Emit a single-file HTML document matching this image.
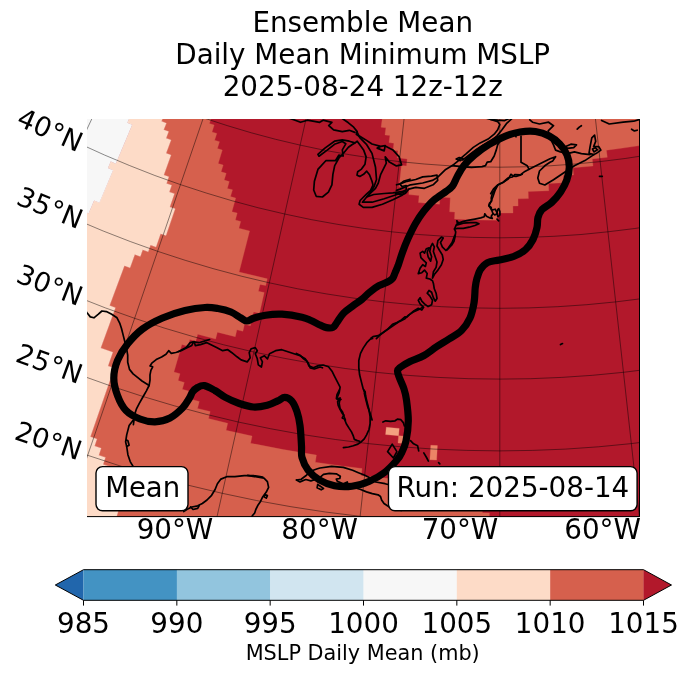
<!DOCTYPE html><html><head><meta charset="utf-8"><title>Ensemble Mean MSLP</title><style>html,body{margin:0;padding:0;background:#fff}body{width:688px;height:674px;position:relative;overflow:hidden}svg text{font-family:"DejaVu Sans","Liberation Sans",sans-serif;fill:#000}</style></head><body><svg width="688" height="674" viewBox="0 0 688 674" style="position:absolute;left:0;top:0">
<defs><clipPath id="m"><rect x="87.0" y="119.0" width="553.0" height="398.0"/></clipPath></defs>
<g clip-path="url(#m)">
<rect x="87.0" y="119.0" width="553.0" height="398.0" fill="#b2182b"/>
<path d="M124.4,265.7 109.6,305.6 115.4,307.8 100.7,348 112.8,352.4 108,365.9 114.1,368.1 90.4,436.8 96.9,439 94.5,446 101.1,448.2 98.7,455.2 105.4,457.4 103.1,464.4 116.4,468.7 112,482.9 118.7,485 112.1,506.4 119,508.6 116.4,517 489.3,517 489.4,512.9 482.4,512.8 482.5,505.4 455,504.7 455.2,497.4 427.9,496.1 428.3,488.8 394.3,486.4 394.9,479.1 361.2,475.7 362,468.5 342,466 315.3,462.3 316.4,455.1 283.4,449.6 250.6,443.2 252.1,436.1 226.1,430.3 227.7,423.3 208.5,418.6 210.2,411.6 197.5,408.4 199.3,401.4 186.7,398 188.6,391 182.3,389.3 184.3,382.4 178.1,380.6 180,373.7 173.9,371.9 181.9,344.5 187.9,346.2 189.8,339.4 195.8,341.1 197.7,334.2 215.6,339 217.4,332.2 235.3,336.7 236.9,329.8 242.9,331.2 244.5,324.3 250.4,325.7 253.6,311.9 259.5,313.2 264.2,292.5 258.4,291.2 260,284.4 265.7,285.6 267.3,278.8 239.1,272 249.6,231 238.9,228.2 240.7,221.4 235.4,219.9 237.2,213.1 231.9,211.7 235.7,198.1 230.5,196.6 232.5,189.8 227.3,188.4 229.3,181.6 224.2,180.1 226.2,173.3 221.1,171.8 223.2,165.1 218.2,163.5 222.3,150 217.4,148.5 219.5,141.7 214.6,140.2 216.8,133.4 212,131.9 214.2,125.1 209.4,123.5 210.9,119 162.3,119 161.5,121.3 166.2,123.2 163.7,129.8 168.5,131.6 166,138.2 170.9,140.1 166,153.3 171,155.1 163.7,175 168.8,176.8 166.4,183.5 171.5,185.3 169.2,191.9 174.4,193.7 169.8,207 175,208.8 166,235.5 160.6,233.7 156,247 150.5,245.1 148.2,251.7 142.7,249.8 140.3,256.4 134.8,254.5 129.9,267.7ZM382.2,119 381.1,127.2 385.9,127.8 385,134.9 389.9,135.5 389,142.6 393.9,143.2 393.1,150.2 398,150.8 397.2,157.8 407.2,158.9 406.5,165.9 401.4,165.4 399.2,186.5 409.4,187.6 408.8,194.6 419.1,195.6 418.5,202.6 439.5,204.2 439.9,197.1 450.3,197.7 449.6,211.8 454.8,212.1 454.5,219.1 475.8,219.9 497.1,220.2 497.1,213.1 513,213 512.9,206 518.1,205.9 518,198.8 528.4,198.6 528.2,191.5 548.8,190.7 548.5,183.6 563.8,182.7 563.3,175.6 573.5,174.9 572.9,167.8 593,166 592.3,158.9 607.3,157.3 606.4,150.2 621.2,148.3 640,145.6 640,119Z" fill="#d6604d" stroke="#d6604d" stroke-width="0.3"/>
<path d="M116.5,517 119,508.5 112.1,506.4 118.8,485 112,482.9 116.5,468.7 103.1,464.4 105.4,457.4 98.8,455.2 101.1,448.2 94.6,446 96.9,439 90.4,436.8 114.2,368 108,365.9 112.8,352.3 100.7,348 115.4,307.7 109.6,305.6 124.4,265.7 130,267.8 134.8,254.5 140.3,256.5 142.7,249.8 148.2,251.8 150.5,245.1 156,247 160.6,233.7 166,235.5 175.1,208.8 169.8,207 174.4,193.7 169.3,191.9 171.6,185.3 166.5,183.4 168.8,176.8 163.8,175 171,155.1 166.1,153.3 171,140 166.1,138.2 168.6,131.6 163.7,129.8 166.3,123.2 161.5,121.3 162.4,119 129,119 127.4,122.7 132.2,124.7 115.8,163.7 110.8,161.6 108,168.1 113,170.2 99.3,202.6 94.1,200.4 88.6,213.4 87,212.7 87,517Z" fill="#fddbc7" stroke="#fddbc7" stroke-width="0.3"/>
<path d="M88.6,213.4 94.1,200.5 99.4,202.7 113.1,170.2 108,168.1 110.8,161.6 115.8,163.7 132.2,124.7 127.4,122.7 129,119 87,119 87,212.8Z" fill="#f7f7f7" stroke="#f7f7f7" stroke-width="0.3"/>
<path d="M385.6,434.5 398.6,435.7 399.2,428.5 386.3,427.3Z" fill="#f3a07f" stroke="#f3a07f" stroke-width="0.3"/>
<path d="M398,442.9 404.6,443.5 405.1,436.2 398.6,435.7ZM437.4,445.6 430.8,445.3 429.9,459.7 436.6,460.1Z" fill="#ec8466" stroke="#ec8466" stroke-width="0.3"/>
<path d="M-287,535.3 136.2,-154.6M-141.4,613.9 203.5,-118.2M12,676.1 274.4,-89.5M171.3,721 348,-68.7M334.5,748.2 423.4,-56.2M499.8,757.3 499.8,-52M665,748.2 576.1,-56.2M828.2,721 651.5,-68.7M-310.4,423.7 -277.9,445.5 -244.8,466.5 -211.1,486.5 -176.9,505.6 -142.2,523.7 -107,540.9 -71.3,557.1 -35.2,572.3 1.3,586.5 38.2,599.7 75.4,611.9 113,623.1 150.8,633.2 188.9,642.3 227.2,650.3 265.8,657.3 304.5,663.2 343.4,668 382.4,671.8 421.4,674.5 460.6,676.1 499.8,676.6 538.9,676.1 578.1,674.5 617.1,671.8 656.1,668 695,663.2 733.7,657.3 772.3,650.3 810.6,642.3 848.7,633.2 886.5,623.1 924.1,611.9 961.3,599.7M-266.2,359.9 -235.5,380.5 -204.2,400.3 -172.4,419.3 -140,437.3 -107.2,454.5 -73.9,470.7 -40.2,486 -6.1,500.4 28.5,513.9 63.3,526.3 98.5,537.9 134,548.4 169.8,558 205.8,566.6 242.1,574.2 278.5,580.7 315.1,586.3 351.9,590.9 388.8,594.5 425.7,597 462.7,598.5 499.8,599 536.8,598.5 573.8,597 610.7,594.5 647.6,590.9 684.4,586.3 721,580.7 757.4,574.2 793.7,566.6 829.7,558 865.5,548.4 901,537.9 936.2,526.3M-223.5,298.2 -194.5,317.7 -164.9,336.4 -134.9,354.2 -104.4,371.3 -73.4,387.5 -41.9,402.8 -10.1,417.3 22.1,430.9 54.7,443.6 87.7,455.3 120.9,466.2 154.4,476.2 188.2,485.2 222.2,493.3 256.4,500.5 290.9,506.7 325.4,512 360.1,516.3 394.9,519.7 429.8,522.1 464.8,523.5 499.8,524 534.7,523.5 569.7,522.1 604.6,519.7 639.4,516.3 674.1,512 708.6,506.7 743.1,500.5 777.3,493.3 811.3,485.2 845.1,476.2 878.6,466.2 911.8,455.3M-181.9,238 -154.6,256.4 -126.7,274 -98.4,290.9 -69.6,306.9 -40.4,322.2 -10.8,336.7 19.2,350.3 49.6,363.1 80.3,375.1 111.4,386.2 142.7,396.4 174.3,405.8 206.1,414.3 238.2,422 270.4,428.7 302.9,434.6 335.5,439.5 368.2,443.6 401,446.8 433.9,449.1 466.8,450.4 499.8,450.9 532.7,450.4 565.6,449.1 598.5,446.8 631.3,443.6 664,439.5 696.6,434.6 729.1,428.7 761.3,422 793.4,414.3 825.2,405.8 856.8,396.4 888.1,386.2M-141.1,179.1 -115.4,196.3 -89.2,212.9 -62.6,228.7 -35.5,243.8 -8.1,258.2 19.8,271.8 48,284.6 76.6,296.6 105.4,307.9 134.6,318.3 164.1,328 193.8,336.8 223.7,344.8 253.8,352 284.2,358.3 314.7,363.8 345.3,368.5 376,372.3 406.9,375.3 437.8,377.4 468.8,378.7 499.8,379.1 530.7,378.7 561.7,377.4 592.6,375.3 623.5,372.3 654.2,368.5 684.8,363.8 715.3,358.3 745.7,352 775.8,344.8 805.7,336.8 835.4,328 864.9,318.3M-100.8,120.8 -76.7,137 -52.2,152.5 -27.2,167.3 -1.9,181.5 23.9,194.9 50,207.7 76.4,219.7 103.2,231 130.2,241.5 157.6,251.3 185.2,260.3 213,268.6 241.1,276.1 269.3,282.8 297.7,288.8 326.3,293.9 355,298.3 383.8,301.9 412.7,304.7 441.7,306.7 470.7,307.9 499.8,308.3 528.8,307.9 557.8,306.7 586.8,304.7 615.7,301.9 644.5,298.3 673.2,293.9 701.8,288.8 730.2,282.8 758.4,276.1 786.5,268.6 814.3,260.3 841.9,251.3M-60.7,62.8 -38.2,77.9 -15.3,92.4 8,106.3 31.6,119.5 55.7,132 80,143.9 104.7,155.1 129.7,165.6 154.9,175.5 180.4,184.6 206.2,193 232.2,200.8 258.3,207.8 284.7,214 311.2,219.6 337.9,224.4 364.7,228.5 391.6,231.8 418.5,234.5 445.6,236.3 472.7,237.4 499.8,237.8 526.8,237.4 553.9,236.3 581,234.5 607.9,231.8 634.8,228.5 661.6,224.4 688.3,219.6 714.8,214 741.2,207.8 767.3,200.8 793.3,193 819.1,184.6M-20.5,4.7 0.4,18.8 21.6,32.2 43.2,45.1 65.2,57.3 87.5,69 110.1,80 133,90.4 156.2,100.2 179.6,109.3 203.3,117.8 227.2,125.6 251.3,132.8 275.6,139.3 300.1,145.1 324.7,150.3 349.5,154.7 374.4,158.5 399.3,161.6 424.4,164 449.5,165.8 474.6,166.8 499.8,167.2 524.9,166.8 550,165.8 575.1,164 600.2,161.6 625.1,158.5 650,154.7 674.8,150.3 699.4,145.1 723.9,139.3 748.2,132.8 772.3,125.6 796.2,117.8M20.1,-54 39.3,-41 58.9,-28.6 78.9,-16.8 99.1,-5.5 119.7,5.2 140.5,15.4 161.7,25 183,34 204.6,42.4 226.5,50.3 248.5,57.5 270.7,64.1 293.1,70.1 315.7,75.4 338.4,80.2 361.2,84.3 384.2,87.8 407.2,90.7 430.3,92.9 453.4,94.5 476.6,95.5 499.8,95.8 522.9,95.5 546.1,94.5 569.2,92.9 592.3,90.7 615.3,87.8 638.3,84.3 661.1,80.2 683.8,75.4 706.4,70.1 728.8,64.1 751,57.5 773,50.3M61.5,-113.8 79.1,-102 97,-90.7 115.2,-79.9 133.7,-69.5 152.5,-59.7 171.5,-50.4 190.8,-41.7 210.4,-33.4 230.1,-25.7 250.1,-18.6 270.2,-12 290.5,-6 311,-0.5 331.6,4.4 352.3,8.8 373.2,12.5 394.1,15.7 415.2,18.3 436.3,20.4 457.4,21.8 478.6,22.7 499.8,23 520.9,22.7 542.1,21.8 563.2,20.4 584.3,18.3 605.4,15.7 626.3,12.5 647.2,8.8 667.9,4.4 688.5,-0.5 709,-6 729.3,-12 749.4,-18.6" fill="none" stroke="#000" stroke-opacity="0.45" stroke-width="1"/>
<path d="M290,118.5 295.2,120.2 300.5,122.3 307.4,120.2 319.7,122.3 323.1,120.2 331.9,122.3 328.7,125.5 333.6,129.8 342.3,131.6 349.3,130.3 354.9,132.4" fill="none" stroke="#000" stroke-width="1.7" stroke-linejoin="round" stroke-linecap="round"/>
<path d="M342.3,118.5 348.4,122.8 353.7,127.2 357.2,131.6 356.3,134.2 359.8,136.8" fill="none" stroke="#000" stroke-width="1.7" stroke-linejoin="round" stroke-linecap="round"/>
<path d="M354.9,142.9 349.3,141.2 342.3,139.8 334.5,141.2 324.9,148.1 317.9,154.4 319,156.2 327.5,149.9 334.5,144.3 342.3,141.5 345.8,143.8 342.3,149.9 343.2,156 338.8,155.1 335.4,160.7 325.8,160.7 317.9,169.4 314.4,181.3 313.7,190 316.2,196.3 322.4,197 328.4,192.1 331.9,184.8 332.9,174.3 334.7,165.6 339.2,157.7 344.1,152.5 348.4,147.3 351.9,144.7 354.9,142.9" fill="none" stroke="#000" stroke-width="1.7" stroke-linejoin="round" stroke-linecap="round"/>
<path d="M354.9,142.9 357.2,141.2 359.8,144.7 363.6,149.9 366.1,156.9 365,164.2 361.5,169.1 357.7,171.7 357,175.2 359.8,176.4 363.6,174.3 366.7,171.2 369.5,174.7 372,181.3 373,185.1 370.6,190.4 366.7,193.8 360.1,200.5 359.1,204.3 363.3,207.4 372,207.4 382.4,204.3 392.9,199.8 401.6,195.6 406.5,192.1" fill="none" stroke="#000" stroke-width="1.7" stroke-linejoin="round" stroke-linecap="round"/>
<path d="M357.2,132.4 359.8,137.7 366.7,144.7 372,153.4 375.5,167.3 376.5,179.5 374.1,186.5 371.3,191.1 366.7,197 362.4,202.2 372,202.2 384.2,198.7 394.7,195.2 405.5,191.4" fill="none" stroke="#000" stroke-width="1.7" stroke-linejoin="round" stroke-linecap="round"/>
<path d="M359.8,136.3 365,139.4 372,144 380.7,146.4 385.2,145.7 384.2,150.9 377.2,148.1 380.7,146.4" fill="none" stroke="#000" stroke-width="1.7" stroke-linejoin="round" stroke-linecap="round"/>
<path d="M385.2,146 392.9,149.9 399.2,156.9 401.6,164.9 396.4,165.9 389.4,162.1 385.2,156.9 386.3,163.1 384.2,167.3 380.7,174.3 378.3,183 375.5,188.3 372,191.7 366.7,197 373.7,194.5 384.2,193.5 392.9,192.8 401.6,191.7 406.2,190 406.2,185.5 402,186.5 399.9,184.1 403.4,181.3 410,179.2" fill="none" stroke="#000" stroke-width="1.7" stroke-linejoin="round" stroke-linecap="round"/>
<path d="M396.5,184.8 400,183.9 407,181.3 415.7,179.5 422.7,176.9 431.4,176.1 437,175.2 437.7,180.4 433.1,184.8 424.4,188.3 415.7,187.4 408.7,189.1 405.2,193.5 400,194.5 395.6,193.5" fill="none" stroke="#000" stroke-width="1.7" stroke-linejoin="round" stroke-linecap="round"/>
<path d="M396.5,190.4 400,189.1 410.5,184.8 422.7,183 432.3,180.4 437.5,177.4 445.7,169.4 452.3,165.6 457.6,161.4 460.4,158.6" fill="none" stroke="#000" stroke-width="1.7" stroke-linejoin="round" stroke-linecap="round"/>
<path d="M456.2,159 459.3,157.6 463.1,158.6 460.2,160.7 456.2,159" fill="none" stroke="#000" stroke-width="1.7" stroke-linejoin="round" stroke-linecap="round"/>
<path d="M460.4,158.6 466.3,153.7 473.3,147.4 480.2,142.9 488.1,139.1 494.2,134.2 497.7,129.8 499.8,124.6 497.7,121.6 490.7,119.5 487.2,118.5" fill="none" stroke="#000" stroke-width="1.7" stroke-linejoin="round" stroke-linecap="round"/>
<path d="M462.8,160 469.8,154.4 476.7,149.2 483.7,144.7 490.7,141.2 497,135.9 502,129.8 506.4,123.7 511.6,118.8" fill="none" stroke="#000" stroke-width="1.7" stroke-linejoin="round" stroke-linecap="round"/>
<path d="M490.7,119.5 497.7,120.2 504.7,120.6 509,118.5" fill="none" stroke="#000" stroke-width="1.7" stroke-linejoin="round" stroke-linecap="round"/>
<path d="M452.3,165.6 461.1,166.6 471.5,167.3 482,166.6 485.5,165.6 487.2,162.1 490.7,161.7 494.2,156 496.3,149.9 497.7,144.7 501.2,139.4 504.7,135.1 509,132.4 513.4,133.3 516,136.8" fill="none" stroke="#000" stroke-width="1.7" stroke-linejoin="round" stroke-linecap="round"/>
<path d="M522.1,174.3 520,175.2 516,176.4 513.4,176.1 510.9,174.3 508.5,178.7 503.3,182.2 498,184.8 495.2,190 492.8,197 490.7,202.2 489,205.7 491.7,210.1 495.2,209.2 497,212.7 497.7,216.2" fill="none" stroke="#000" stroke-width="1.7" stroke-linejoin="round" stroke-linecap="round"/>
<path d="M521,136.2 521,162.3 527.3,165.8 529.1,169.3" fill="none" stroke="#000" stroke-width="1.7" stroke-linejoin="round" stroke-linecap="round"/>
<path d="M490.7,193.7 493.5,188.8 497.7,185 502.9,182.5 508.1,178 512.3,177 515.1,174.5 520.3,174.9 524.9,171.4 529.1,169.3 539.5,164.1 550,158.8 555.6,156.7 552.8,160.9 550,162.3 544.8,165.8 539.5,171 537.8,178 539.5,183.2 544.8,185 553.5,179.8 563.9,172.8 574.4,165.8 584.9,160.6 590.1,157.1 593.9,154.6" fill="none" stroke="#000" stroke-width="1.7" stroke-linejoin="round" stroke-linecap="round"/>
<path d="M593.9,154.6 589,153.3 590.1,146.6 591.8,137.9 594.6,135.1 595.7,141.4 593.6,146.6 598.8,146.6 600.9,150.1 596,153.6 593.9,154.6" fill="none" stroke="#000" stroke-width="1.7" stroke-linejoin="round" stroke-linecap="round"/>
<path d="M592.5,149.1 595.3,147.7 597.4,149.8 593.9,151.9 592.5,149.1" fill="none" stroke="#000" stroke-width="1.7" stroke-linejoin="round" stroke-linecap="round"/>
<path d="M590.1,154.6 581.4,153.6 574.4,151.9 567.4,153.6 560.4,151.9 555.6,150.1 553.5,144.9 550,137.9 548.2,130.9 553.5,125.7 548.6,122.2 539.5,124 532.5,122.2 529.8,119.8" fill="none" stroke="#000" stroke-width="1.7" stroke-linejoin="round" stroke-linecap="round"/>
<path d="M565.7,146.6 570.9,144.2 576.5,144.9 573.7,147.7 567.4,148.4 565.7,146.6" fill="none" stroke="#000" stroke-width="1.7" stroke-linejoin="round" stroke-linecap="round"/>
<path d="M577.2,129.2 579.3,127.1 581.4,125.7" fill="none" stroke="#000" stroke-width="1.7" stroke-linejoin="round" stroke-linecap="round"/>
<path d="M601.6,120.5 609.3,124 623.2,122.2 633.7,121.2 640.7,119.1" fill="none" stroke="#000" stroke-width="1.7" stroke-linejoin="round" stroke-linecap="round"/>
<path d="M631.6,129.2 634.4,130.9 637.2,130.2" fill="none" stroke="#000" stroke-width="1.7" stroke-linejoin="round" stroke-linecap="round"/>
<path d="M599.5,176.3 602.3,176.3" fill="none" stroke="#000" stroke-width="1.7" stroke-linejoin="round" stroke-linecap="round"/>
<path d="M454.8,235.3 452.1,242.5 448.5,247.8 445.9,250.5 442.3,246.9 440.5,242.5 443.2,238 441.4,237.1 437.9,240.7 437,246 439.6,250.5 442.3,254.9 443.2,259.4 441.4,264.7 437.9,270.1 434.3,274.5 432.5,278.1 433.4,271.8 436.1,267.4 437,262 435.2,256.7 433.4,251.4 434.3,246.9 432.5,243.4 430.7,246.9 429.8,251.4 431.6,256.7 430.7,261.2 428.1,256.7 427.2,252.3 429,247.8 426.3,248.7 424.5,253.1 422.7,251.4 420.1,253.1 420.9,257.6 423.6,260.3 426.3,262.9 425.4,266.5 422.7,264.7 420.1,268.3 418.3,273.6 421.8,272.7 424.5,270.1 427.2,273.6 426.3,278.1 429.8,279 432.5,280.7 433.4,283.4 434.3,288.8 436.1,293.2 437,298.5 435.2,301.2 433.4,297.7 431.6,292.3 429,290.5 427.2,293.2 429.8,295.9 432.5,300.3 431.6,304.8 428.1,306.6 424.5,303.9 421.8,301.2 420.1,297.7 418.3,300.3 420.1,303.9 423.6,307.4 421.8,310.1 418.3,308.3 413.8,311 409.4,314.6 406.7,317.2 404.9,316.9 401.4,319.9 396.9,322.6 392.5,324.4 388,328.8 383.6,332.4 380,335 376.4,338.6" fill="none" stroke="#000" stroke-width="1.7" stroke-linejoin="round" stroke-linecap="round"/>
<path d="M422.8,307.1 420,308.9 413.9,311.6 408.6,315.1 405,318.7 399.7,321.4 394.4,324.9 389,328.5 383.7,332 378.3,335.6 373,336.7 370.9,338.1 372.6,338.5 370.3,339.2 366.8,342.7 363.2,348.1 360.5,353.4 358.8,360.5 358.8,367.7 359.6,374.8 361.4,381.9 363.2,389 365.2,391.7 365.5,396.1 364.4,393.5 365.9,399.7 367.7,406.8 370.3,413.9 372.1,420" fill="none" stroke="#000" stroke-width="1.7" stroke-linejoin="round" stroke-linecap="round"/>
<path d="M296.4,353.4 300,355.2 303.6,358.8 307.1,361.4 308.9,365.9 313.4,367.7 317.8,365.9 323.1,365 328.5,366.8 332,371.2 334.7,376.6 337.4,381.9 340.1,387.2 339.2,392.6 337.4,397 338.3,399.7 340.1,397.9 339.2,403.3 340.1,408.6 342.7,412.2 343.6,415.7 345.4,420" fill="none" stroke="#000" stroke-width="1.7" stroke-linejoin="round" stroke-linecap="round"/>
<path d="M178,351.7 180,350.7 186.1,347.6 190.2,342.6 194.2,341.5 195.3,345.6 200.4,344.6 206.5,342.6 210.5,344.6 216.6,347.6 222.7,350.7 227.8,349.7 231.9,352.7 237,356.8 241.1,359.9 247.2,361.9 250.2,357.8 249.2,352.7 251.2,348.7 255.3,347.6 257.3,350.7 255.3,353.8 257.3,358.8 258.3,364.9 261.4,367 262.4,361.9 260.4,357.8 264.5,355.8 267.5,358.8 269.5,353.8 275.6,350.7 281.8,349.7 287.9,351.7 294,353.8 300.1,355.8 305.2,358.8 308.2,362.9 310.2,368 314.3,369 320,367 322.5,367.8" fill="none" stroke="#000" stroke-width="1.7" stroke-linejoin="round" stroke-linecap="round"/>
<path d="M85,309.8 86.8,312.5 90.3,316.9 93.9,317.8 98.4,314.2 101.9,311 106.4,311.6 111.7,314.2 117,317.8 119.7,323.1 121.5,328.5 123.3,335.6 125.1,342.7 126.8,349.8 127.7,355.2 127.7,362.3 129.5,369.4 133.1,373.9 137.5,377.4 142,381 146.4,383.7 149.1,385.5" fill="none" stroke="#000" stroke-width="1.7" stroke-linejoin="round" stroke-linecap="round"/>
<path d="M209.6,339.5 207.5,340.1 198.9,342.7 193.6,341.8 191.8,345.4 186.5,348.1 181.1,350.7 175.8,352.5 171.3,353.4 168.7,350.7 166,354.3 161.6,357 156.2,359.6 151.8,363.2 150,365.9 152.7,366.8 150.9,370.3 150,374.8 150,380.1 149.1,385.5 146.4,390.8 142.9,397 139.3,403.3 136.6,408.6 134.8,413.9 134,420 133.4,424.6" fill="none" stroke="#000" stroke-width="1.7" stroke-linejoin="round" stroke-linecap="round"/>
<path d="M134,419.5 132.6,420.9 129.1,425.6 126.7,434.9 125.6,441.9 126.7,446.5 129.1,445.3 127.9,440.7 126.5,440" fill="none" stroke="#000" stroke-width="1.7" stroke-linejoin="round" stroke-linecap="round"/>
<path d="M126.7,446.5 127.9,454.7 130.2,461.6 133.7,467.4 137.2,472.1" fill="none" stroke="#000" stroke-width="1.7" stroke-linejoin="round" stroke-linecap="round"/>
<path d="M183.7,511.6 187.2,509.3 191.9,507 197.7,505.8 202.3,503.5 207,500 211.6,495.3 215.1,489.5 217.4,483.7 220.9,479.1 226.7,476.7 234.9,476.7 244.2,475.6 253.5,475.6 260,476.7 262.8,477.2" fill="none" stroke="#000" stroke-width="1.7" stroke-linejoin="round" stroke-linecap="round"/>
<path d="M190.7,507 193,509.5 197.7,508.4 199.1,505.8" fill="none" stroke="#000" stroke-width="1.7" stroke-linejoin="round" stroke-linecap="round"/>
<path d="M247.7,475.3 250,475.8 257,477 264,478.1 267.4,481.6 268.6,487.4 266.3,492.1 262.8,496.7 260.5,501.4 258.1,504.9 255.8,509.5 254.7,513 252.3,515.8 250,520" fill="none" stroke="#000" stroke-width="1.7" stroke-linejoin="round" stroke-linecap="round"/>
<path d="M265.1,494.4 267.4,495.6 266.3,498.1 264,496.7 265.1,494.4" fill="none" stroke="#000" stroke-width="1.7" stroke-linejoin="round" stroke-linecap="round"/>
<path d="M339.3,390 337,394.7 336.4,398.7 338.7,400.5 341,399.3 337.6,401.6 338.1,405.1 339.9,409.2 342.2,413.3 344,415 342.2,417.9 344.5,419.1 346.3,423.7 349.2,428.4 351.5,431.9 353.3,435.9 354.4,439.4 357.3,440.6 359.7,441.2" fill="none" stroke="#000" stroke-width="1.7" stroke-linejoin="round" stroke-linecap="round"/>
<path d="M363.7,390 365.5,395.8 367.2,402.8 369,409.8 370.1,416.7 370.1,423.7 369,429.5 366.6,434.8 364.3,438.8 361.4,441.7 357.9,444.1 353.3,445.8 348.6,447 343.4,447.6" fill="none" stroke="#000" stroke-width="1.7" stroke-linejoin="round" stroke-linecap="round"/>
<path d="M382.9,422 385.8,420.8 390.5,421.4 395.1,420.8 397.4,419.1 400.9,419.7 403.3,422.6 404.4,426" fill="none" stroke="#000" stroke-width="1.7" stroke-linejoin="round" stroke-linecap="round"/>
<path d="M387.6,451.6 392.2,444.1 396.9,451.6 393.4,458 387.6,451.6" fill="none" stroke="#000" stroke-width="1.7" stroke-linejoin="round" stroke-linecap="round"/>
<path d="M560.5,344.6 562.5,343.6" fill="none" stroke="#000" stroke-width="1.7" stroke-linejoin="round" stroke-linecap="round"/>
<path d="M410.5,440.7 413.6,443.8 417.6,445.8 418.7,450.9" fill="none" stroke="#000" stroke-width="1.7" stroke-linejoin="round" stroke-linecap="round"/>
<path d="M423.8,452.9 426.8,458 428.4,461.1" fill="none" stroke="#000" stroke-width="1.7" stroke-linejoin="round" stroke-linecap="round"/>
<path d="M438.6,462.7 439.8,463.9" fill="none" stroke="#000" stroke-width="1.7" stroke-linejoin="round" stroke-linecap="round"/>
<path d="M495.8,187.7 494.7,190 492.3,193.5 491.2,198.1 491.7,201 489.4,203.4 488.8,205.7 491.2,207.4 491.7,210.3 492.9,213.3 494.7,215 497,213.8 497.6,209.8 498.7,208.6 499.9,211.5 499.9,215 498.1,216.7" fill="none" stroke="#000" stroke-width="1.7" stroke-linejoin="round" stroke-linecap="round"/>
<path d="M497,219.1 498.7,220.8" fill="none" stroke="#000" stroke-width="1.7" stroke-linejoin="round" stroke-linecap="round"/>
<path d="M492.9,213.8 491.2,216.2 492.3,218.5 490,217.9 486.5,216.2 484.8,213.8 484.2,216.7 480.7,217.9 474.9,219.1 469.1,220.2 463.3,221.4 458.6,223.1 456.9,220.8 457.4,223.7 456.3,224.9 454.5,229 455.7,231.9 455.1,236.5 454,241.2 451.6,245.2 448.7,248.1 447,250" fill="none" stroke="#000" stroke-width="1.7" stroke-linejoin="round" stroke-linecap="round"/>
<path d="M457.4,224.9 463.3,223.1 470.2,222.6 476,222.6 479,223.7 474.9,225.5 469.1,227.2 463.3,228.4 457.4,228.4 454.5,229" fill="none" stroke="#000" stroke-width="1.7" stroke-linejoin="round" stroke-linecap="round"/>
<path d="M296.5,480 301.2,479.3 305.8,475.8 310.5,471.2 317.4,468.8 320,468 331.6,466.3 343.3,467.4 352.6,470.3 358.4,472.7 364.2,475 368.8,477.3 375.8,482 385.1,483.7 392.1,485.5 401.4,488.4" fill="none" stroke="#000" stroke-width="1.7" stroke-linejoin="round" stroke-linecap="round"/>
<path d="M296.5,480 300,481.9 305.8,479.5 310.9,480.9 316,479.1 320,477.4 323.5,474.4 329.3,473.3 336.3,473.8 340.3,476.2 339.8,478.5 336.3,479.1 337.4,481.4 343.3,483.7 347.3,482 347.9,484.3 354.9,487.8 360.7,489.5 366.5,491.9 372.3,493.6 378.1,494.8 380.5,496.5 381.6,500 384,503.5 387.4,505.8 392.1,508.7 401.4,510.5" fill="none" stroke="#000" stroke-width="1.7" stroke-linejoin="round" stroke-linecap="round"/>
<path d="M317.7,484.4 320,486 323.5,488.4 321.2,489.8 317.1,487.8 317.7,484.4" fill="none" stroke="#000" stroke-width="1.7" stroke-linejoin="round" stroke-linecap="round"/>
<path d="M247,321C244.9,321 243.7,319.5 241,318C238.3,316.5 234.8,313.6 231,312C227.2,310.4 222.3,309.2 218,308.5C213.7,307.8 210.5,307.2 205,307.5C199.5,307.8 192.1,308.8 185,310.5C177.9,312.2 169.6,314.9 162.5,318C155.4,321.1 148.3,324.7 142.5,329C136.7,333.3 131.7,338.8 127.5,344C123.3,349.2 119.8,354.8 117.5,360.5C115.2,366.2 113.8,372.2 113.8,378C113.8,383.8 115.5,390.1 117.5,395.5C119.5,400.9 122.2,406.6 126,410.5C129.8,414.4 135.2,417.1 140,419C144.8,420.9 150,421.9 155,421.8C160,421.6 165.4,420.3 170,418C174.6,415.7 179.2,411.3 182.5,408C185.8,404.7 187.8,400.7 189.5,398C191.2,395.3 191.2,393.8 192.5,392C193.8,390.2 195.5,388.6 197.5,387.5C199.5,386.4 201.6,385.1 204.5,385.6C207.4,386.1 211.4,388.5 214.9,390.5C218.4,392.5 221.3,395.2 225.4,397.4C229.5,399.6 234.7,401.9 239.3,403.5C244,405.1 248.7,406.7 253.3,407C257.9,407.3 263.1,406.3 267.2,405.3C271.3,404.3 274.8,402.2 277.7,400.9C280.6,399.6 282.4,397.4 284.7,397.4C287,397.4 289.6,398.6 291.6,400.9C293.6,403.2 295.5,407.3 296.9,411.4C298.3,415.5 299.2,419.6 300,425.4C300.8,431.2 301.2,440.6 301.5,446C301.8,451.4 300.9,453.5 302,457.5C303.1,461.5 305.1,466.2 308,470C310.9,473.8 315.1,477.4 319.5,480C323.9,482.6 329.1,484.7 334.5,485.8C339.9,486.8 346.2,487 352,486.2C357.8,485.5 364.1,483.5 369.5,481.2C374.9,479 379.9,476 384.5,472.5C389.1,469 394.1,463.4 397,460C399.9,456.6 400.5,455.2 402,452C403.5,448.8 404.9,446.2 406,441C407.1,435.8 408.2,427.8 408.3,421C408.4,414.2 407.2,405.3 406.5,400C405.8,394.7 405.2,392.7 404,389C402.8,385.3 400.6,381 399.5,378C398.4,375 397.4,372.8 397.5,371C397.6,369.2 397.9,369.1 400,367.5C402.1,365.9 406,363.5 410,361.5C414,359.5 419.6,358 424,355.5C428.4,353 432.3,349.5 436.5,346.8C440.7,344 444.8,341.7 449,339C453.2,336.3 458,334 461.5,330.5C465,327 467.9,322.6 470,318C472.1,313.4 473.1,308 474,303C474.9,298 474.8,292 475.2,288C475.7,284 475.9,282.1 476.8,279C477.7,275.9 478.6,272.3 480.4,269.6C482.2,266.9 484.4,264.2 487.5,262.6C490.6,261 494.9,261 499.3,260C503.7,259 509.2,258.2 513.6,256.5C518,254.8 522.3,252.4 525.5,249.6C528.7,246.8 531.1,243.2 533,239.5C534.9,235.8 536.2,231.2 537,227.5C537.8,223.8 537.2,220.5 538,217.5C538.8,214.5 539.7,212 542,209.5C544.3,207 548.5,205.4 551.6,202.5C554.7,199.6 558.1,195.8 560.6,192C563.1,188.2 565.3,184.2 566.8,180C568.2,175.8 569.3,171.2 569.3,167C569.3,162.8 568.6,158.6 567,154.8C565.4,151 562.7,147.1 559.7,144C556.7,140.9 553.2,138.1 549.2,136C545.2,133.9 540.4,132.2 535.5,131.5C530.6,130.8 525.1,131.2 520,132C514.9,132.8 510.2,134.2 505,136.3C499.8,138.4 494.1,141.4 489,144.5C483.9,147.6 478.7,151.5 474.5,155C470.3,158.5 466.9,161.9 464,165.5C461.1,169.1 459.2,173.1 457.3,176.5C455.4,179.9 454.4,183.5 452.5,186C450.6,188.5 449.1,189.2 446,191.5C442.9,193.8 437.8,196.7 434,200C430.2,203.3 426.6,207.6 423.5,211.5C420.4,215.4 418.1,219 415.5,223.5C412.9,228 410.2,233.7 408,238.5C405.8,243.3 404.1,247.7 402.5,252.2C400.9,256.7 399.4,261.8 398.2,265.3C396.9,268.8 395.9,270.8 395,273C394.1,275.2 393.7,277 392.5,278.5C391.3,280 390.3,280.6 388,281.8C385.7,283 381.9,284 378.9,285.7C375.8,287.4 372.5,289.9 369.7,292.2C366.9,294.5 364.7,297.1 361.9,299.4C359.1,301.7 355.8,303.7 352.7,306C349.6,308.3 346.1,310.5 343.5,313.2C340.9,315.9 338.8,319.9 337,322.3C335.2,324.7 334.8,326.5 333,327.4C331.2,328.3 328.7,328 326.5,327.6C324.3,327.2 322.6,326.2 320,325C317.4,323.8 314,321.8 311,320.5C308,319.2 306.8,318.4 302,317.3C297.2,316.2 288.1,314.6 282,314.2C275.9,313.8 270.2,314.5 265.5,315.2C260.8,315.9 256.6,317.2 253.5,318.2C250.4,319.2 249.1,321 247,321Z" fill="none" stroke="#000" stroke-width="7.2" stroke-linejoin="round" stroke-linecap="round"/>
</g>
<path d="M87.0,516.6 H639.5 V119.0" fill="none" stroke="#000" stroke-width="1"/>
<g font-size="27.78" text-anchor="middle">
<text x="362.7" y="32">Ensemble Mean</text>
<text x="362.7" y="64">Daily Mean Minimum MSLP</text>
<text x="362.7" y="96">2025-08-24 12z-12z</text>
</g>
<g font-size="27.78" text-anchor="end">
<text x="213.3" y="539">90°W</text>
<text x="358" y="539">80°W</text>
<text x="498.3" y="539">70°W</text>
<text x="640.9" y="539">60°W</text>
</g>
<g font-size="27" text-anchor="end">
<text transform="translate(77.6,152.3) rotate(23.8)">40°N</text>
<text transform="translate(78.0,229.2) rotate(22.0)">35°N</text>
<text transform="translate(78.2,306.2) rotate(21.2)">30°N</text>
<text transform="translate(78.2,384.2) rotate(19.9)">25°N</text>
<text transform="translate(77.8,460.6) rotate(18.7)">20°N</text>
</g>
<rect x="96" y="466.6" width="92" height="44.2" rx="6.5" ry="6.5" fill="#fff" stroke="#000" stroke-width="1.4"/>
<text x="105.2" y="496.5" font-size="27.5">Mean</text>
<rect x="388.5" y="466.6" width="248.6" height="44.2" rx="6.5" ry="6.5" fill="#fff" stroke="#000" stroke-width="1.4"/>
<text x="396.5" y="496.5" font-size="27.78">Run: 2025-08-14</text>
<g stroke="#000" stroke-width="1" stroke-linejoin="miter">
<path d="M55.3,585 L83.5,569.7 V600.3 Z" fill="#2166ac" stroke="none"/>
<rect x="83.5" y="569.7" width="93.6" height="30.6" fill="#4393c3" stroke="none"/>
<rect x="176.83" y="569.7" width="93.6" height="30.6" fill="#92c5de" stroke="none"/>
<rect x="270.17" y="569.7" width="93.6" height="30.6" fill="#d1e5f0" stroke="none"/>
<rect x="363.5" y="569.7" width="93.6" height="30.6" fill="#f7f7f7" stroke="none"/>
<rect x="456.83" y="569.7" width="93.6" height="30.6" fill="#fddbc7" stroke="none"/>
<rect x="550.17" y="569.7" width="93.6" height="30.6" fill="#d6604d" stroke="none"/>
<path d="M671.5,585 L643.5,569.7 V600.3 Z" fill="#b2182b" stroke="none"/>
<path d="M55.3,585 L83.5,569.7 H643.5 L671.5,585 L643.5,600.3 H83.5 Z" fill="none"/>
<path d="M83.5,600.3V605.6M176.83,600.3V605.6M270.17,600.3V605.6M363.5,600.3V605.6M456.83,600.3V605.6M550.17,600.3V605.6M643.5,600.3V605.6" fill="none"/>
</g>
<g font-size="27.78" text-anchor="middle">
<text x="83.5" y="632.5">985</text>
<text x="176.83" y="632.5">990</text>
<text x="270.17" y="632.5">995</text>
<text x="363.5" y="632.5">1000</text>
<text x="456.83" y="632.5">1005</text>
<text x="550.17" y="632.5">1010</text>
<text x="643.5" y="632.5">1015</text>
</g>
<text x="362.7" y="660" font-size="20.8" text-anchor="middle">MSLP Daily Mean (mb)</text>

</svg></body></html>
